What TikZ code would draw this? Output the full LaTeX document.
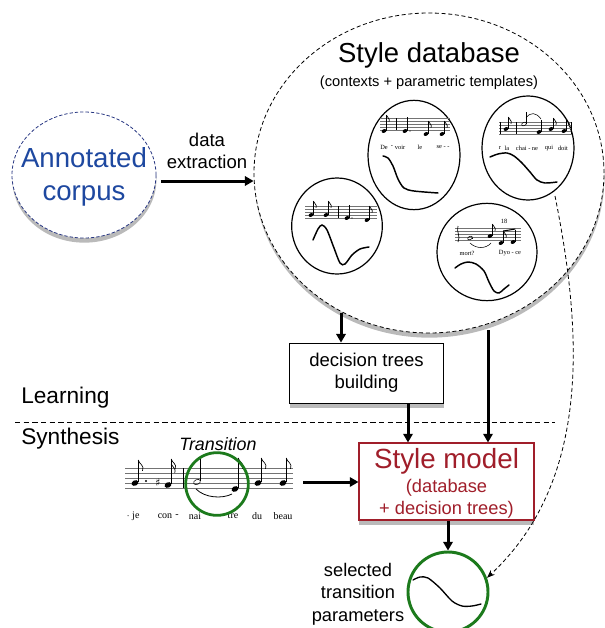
\documentclass[tikz,border=0pt]{standalone}
\usepackage{fontspec}
\setmainfont{Liberation Sans}
\newfontfamily\lserif{Liberation Serif}
\newfontfamily\djv{DejaVu Sans}
\usetikzlibrary{shapes.geometric,shadows,arrows.meta,calc}
\definecolor{corpblue}{RGB}{30,72,160}
\definecolor{corpedge}{RGB}{40,55,130}
\definecolor{modelred}{RGB}{160,30,42}
\definecolor{selgreen}{RGB}{28,122,28}
\tikzset{
  arr/.style={line width=2.25pt,-{Triangle[length=6.5pt,width=7pt]}},
  shad/.style={drop shadow={shadow xshift=0.3pt,shadow yshift=-3.5pt,opacity=0.45,fill=black!60}},
  small/.style={draw,line width=0.9pt},
  stf/.style={line width=0.3pt,black!55},
  curve/.style={line width=1.1pt,line cap=round},
  lyr/.style={font=\lserif\fontsize{4.8}{5}\selectfont,inner sep=0pt},
  lyrb/.style={font=\lserif\fontsize{7.5}{8}\selectfont,inner sep=0pt},
  midtext/.style={font=\fontsize{13.9}{16.5}\selectfont,align=center,inner sep=0pt},
}
% note head with stem: x, y, size, stem top y
\newcommand\mnote[4]{%
  \fill[rotate around={25:(#1,#2)}] (#1,#2) ellipse [x radius={#3*0.75pt}, y radius={#3*0.55pt}];
  \draw[line width=0.4pt] ({#1+#3*0.9},{#2-#3*0.2}) -- ({#1+#3*0.9},#4);}
\newcommand\mopen[4]{%
  \draw[line width=0.4pt,rotate around={25:(#1,#2)}] (#1,#2) ellipse [x radius={#3*0.75pt}, y radius={#3*0.5pt}];
  \draw[line width=0.4pt] ({#1+#3*0.9},{#2-#3*0.2}) -- ({#1+#3*0.9},#4);}
% flag at top of stem: x, y, size
\newcommand\mflag[3]{%
  \draw[line width=0.5pt] (#1,#2) .. controls ({#1+#3*0.3},{#2+#3*1.2}) and ({#1+#3*1.8},{#2+#3*1.4}) .. ({#1+#3*1.2},{#2+#3*3});}
\newcommand\mstaff[4]{% x1 x2 ytop gap
  \foreach \k in {0,...,4}{\draw[stf] (#1,{#3+\k*#4}) -- (#2,{#3+\k*#4});}}
\begin{document}
\begin{tikzpicture}[x=0.75pt,y=-0.75pt]
\useasboundingbox (0,0) rectangle (605,628);

% ---------- corpus ----------
\node[ellipse,draw=corpedge,fill=white,line width=0.6pt,dash pattern=on 2.5pt off 1.5pt,
      minimum width=108pt,minimum height=94.5pt,inner sep=0pt,shad] (corpus) at (84,175) {};
\node[font=\fontsize{20.7}{24.75}\selectfont,text=corpblue,align=center,inner sep=0pt] (corptxt) at (84,177) {Annotated\\corpus};

% ---------- database ----------
\node[ellipse,draw,fill=white,line width=0.6pt,dash pattern=on 3pt off 2pt,
      minimum width=262.5pt,minimum height=240pt,inner sep=0pt,shad] (db) at (429,173) {};
\node[font=\fontsize{20.6}{24}\selectfont,inner sep=0pt] (dbtitle) at (429,55) {Style database};
\node[font=\fontsize{11}{13}\selectfont,inner sep=0pt] (dbsub) at (429,83) {(contexts + parametric templates)};

% small circle 1
\node[small,ellipse,minimum width=69pt,minimum height=82pt,inner sep=0pt] (s1) at (414,155) {};
\mstaff{380}{450}{118}{3}
\draw[line width=0.4pt] (396,118) -- (396,130);
\mnote{384}{131}{2.5}{115}\mflag{386.25}{115}{2.3}
\mnote{405}{131}{2.5}{117}\fill (410,131) circle (0.5pt);
\mnote{426}{134}{2.5}{121}\mflag{428.25}{121}{2.3}
\mnote{442}{134}{2.5}{121}\mflag{444.25}{121}{2.3}
\node[lyr] (l1a) at (384,147) {De};
\node[lyr] (l1b) at (392,147) {-};
\node[lyr] (l1c) at (400,147) {voir};
\node[lyr] (l1d) at (420,147) {le};
\node[lyr] (l1e) at (443,147) {se - -};
\draw[curve] plot[smooth] coordinates {(383,156) (388,158) (393,166) (398,179) (404,188) (414,191) (438,193)};

% small circle 2
\node[small,ellipse,minimum width=68pt,minimum height=72pt,inner sep=0pt] (s2) at (337,226) {};
\mstaff{305}{377}{206}{3}
\draw[line width=0.4pt] (338,206) -- (338,218);
\mnote{311}{215}{2.5}{201}\mflag{313.25}{201}{2.3}
\mnote{326}{215}{2.5}{201}\mflag{328.25}{201}{2.3}
\mnote{347}{218}{2.5}{205}\fill (352,218) circle (0.5pt);
\mnote{367}{220}{2.5}{206}\mflag{369.25}{206}{2.3}
\draw[curve] plot[smooth] coordinates {(313,240) (318,229) (322,225) (327,230) (334,248) (340,263) (345,264) (352,255) (360,249) (369,247)};

% small circle 3
\node[small,ellipse,minimum width=69pt,minimum height=78pt,inner sep=0pt] (s3) at (528,148) {};
\mstaff{499}{572}{122}{3}
\draw[line width=0.4pt] (500,122) -- (500,134);
\draw[line width=0.4pt] (516,122) -- (516,134);
\draw[line width=0.4pt] (571,122) -- (571,134);
\mnote{506}{129}{2.5}{117}\mflag{508.25}{117}{2.3}
\mopen{524}{124}{2.5}{112}
\mnote{539}{132}{2.5}{120}
\draw[line width=0.4pt] (526,118) .. controls (530,112) and (536,112) .. (541,119);
\mnote{551}{129}{2.5}{118}\mflag{553.25}{118}{2.3}
\mnote{564}{131}{2.5}{119}\mflag{566.25}{119}{2.3}
\node[lyr] (l3a) at (500,148) {r};
\node[lyr] (l3b) at (507,148) {la};
\node[lyr] (l3c) at (527,148) {chai - ne};
\node[lyr] (l3d) at (549,148) {qui};
\node[lyr] (l3e) at (563,148) {doit};
\draw[curve] plot[smooth] coordinates {(490,157) (498,154) (507,153) (514,156) (522,163) (530,172) (537,180) (545,183) (557,182)};

% small circle 4
\node[small,ellipse,minimum width=75pt,minimum height=73pt,inner sep=0pt] (s4) at (487,252) {};
\mstaff{455}{521}{228}{3}
\draw[line width=0.5pt] (458,226) .. controls (456,232) and (461,236) .. (458,242);
\node[lyr] (n18) at (504,221) {18};
\mopen{470}{238}{2.5}{238}
\draw[line width=0.4pt] (470,243) .. controls (476,249) and (486,249) .. (491,243);
\mnote{490}{236}{2.5}{224}\mflag{492.25}{224}{2.3}
\mnote{501}{243}{2.5}{231}\mflag{503.25}{231}{2.3}
\mnote{513}{242}{2.5}{230}
\draw[line width=0.8pt] (503.25,231) -- (515.25,229);
\node[lyr] (l4a) at (467,253) {mort?};
\node[lyr] (l4b) at (510,253) {Dyo - ce};
\draw[curve] plot[smooth] coordinates {(455,268) (461,264) (468,262) (476,264) (484,271) (489,282) (494,291) (499,293) (504,289) (509,285)};

% ---------- data extraction ----------
\node[midtext] (dx) at (207,151) {data\\extraction};
\coordinate (e1) at (161,181);
\draw[arr] (e1) -- (e1 -| db.west);

% ---------- decision trees ----------
\node[draw,fill=white,line width=0.6pt,minimum width=115pt,minimum height=45pt,inner sep=0pt,
      midtext,shad] (dec) at (366.5,373) {decision trees\\building};
\coordinate (d1) at (341,313);
\draw[arr] (d1) -- (d1 |- dec.north);

% ---------- Learning / Synthesis ----------
\node[font=\fontsize{17}{20}\selectfont,anchor=west,inner sep=0pt] (learn) at (21,398) {Learning};
\node[font=\fontsize{17}{20}\selectfont,anchor=west,inner sep=0pt] (synth) at (21,439) {Synthesis};
\coordinate (sepL) at (15,422);
\coordinate (sepR) at (555,422);
\draw[line width=0.6pt,dash pattern=on 4pt off 2.5pt] (sepL) -- (sepR);

% ---------- style model ----------
\node[draw=modelred,fill=white,line width=0.8pt,minimum width=131.25pt,minimum height=57.75pt,
      inner sep=0pt,shad] (model) at (446.5,481.5) {};
\node[font=\fontsize{20.8}{24}\selectfont,text=modelred,inner sep=0pt] (mt1) at (446.5,461) {Style model};
\node[font=\fontsize{13.7}{16.5}\selectfont,text=modelred,align=center,inner sep=0pt] (mt2) at (446.5,499) {(database\\+ decision trees)};

\coordinate (m1) at (408,403);
\draw[arr] (m1 |- dec.south) -- (m1 |- model.north);
\coordinate (m2) at (488,330);
\draw[arr] (m2) -- (m2 |- model.north);

% ---------- transition score ----------
\node[font=\itshape\fontsize{13.4}{15}\selectfont,inner sep=0pt] (trans) at (218,444) {Transition};
\mstaff{125}{293}{468}{5}
\draw[line width=0.5pt] (183,468) -- (183,488);
\mnote{135}{483}{3.6}{460}\mflag{138.2}{460}{3.6}
\fill (146,481) circle (0.8pt);
\node[font=\djv\fontsize{8}{8}\selectfont,inner sep=0pt] (sharp) at (158,483) {♯};
\mnote{168}{485}{3.6}{459}\mflag{171.2}{459}{3.3}\mflag{171.2}{464}{3.0}
\mopen{197}{482}{3.6}{459}
\draw[line width=0.6pt] (196,489) .. controls (205,498) and (222,499) .. (232,494);
\mnote{235}{489}{3.6}{458}\mflag{238.2}{458}{3.6}
\mnote{258}{483}{3.6}{458}\mflag{261.2}{458}{3.6}
\mnote{283}{483}{3.6}{458}\mflag{286.2}{458}{3.6}
\node[lyrb] (ly1) at (133,516) {$\cdot$ je};
\node[lyrb] (ly2) at (165,516) {con};
\node[lyrb] (ly3) at (177,516) {-};
\node[lyrb] (ly4) at (195,516) {nai};
\node[lyrb] (ly5) at (220,516) {-};
\node[lyrb] (ly6) at (233,516) {tre};
\node[lyrb] (ly7) at (257,516) {du};
\node[lyrb] (ly8) at (283,516) {beau};
\node[circle,draw=selgreen,line width=2.1pt,minimum size=47pt,inner sep=0pt] (tcirc) at (217,484) {};
\coordinate (sc) at (303,482);
\draw[arr] (sc) -- (sc -| model.west);

% ---------- selected parameters ----------
\node[circle,draw=selgreen,fill=white,line width=2.2pt,minimum size=60pt,inner sep=0pt] (res) at (448,592) {};
\draw[curve,line width=1pt] plot[smooth] coordinates {(413,580) (420,577) (428,578) (440,588) (452,601) (462,606) (472,606) (481,604)};
\draw[arr] (model.south -| res.north) -- (res.north);
\node[midtext,font=\fontsize{13.7}{16.9}\selectfont] (seltxt) at (358,594) {selected\\transition\\parameters};

% dashed link from database template to result
\coordinate (c3b) at (555,196);
\draw[line width=0.6pt,dash pattern=on 3pt off 2pt,-{Stealth[length=6pt,width=4.5pt]}]
  (c3b) .. controls (582,330) and (592,480) .. (res.20);
\end{tikzpicture}
\end{document}
